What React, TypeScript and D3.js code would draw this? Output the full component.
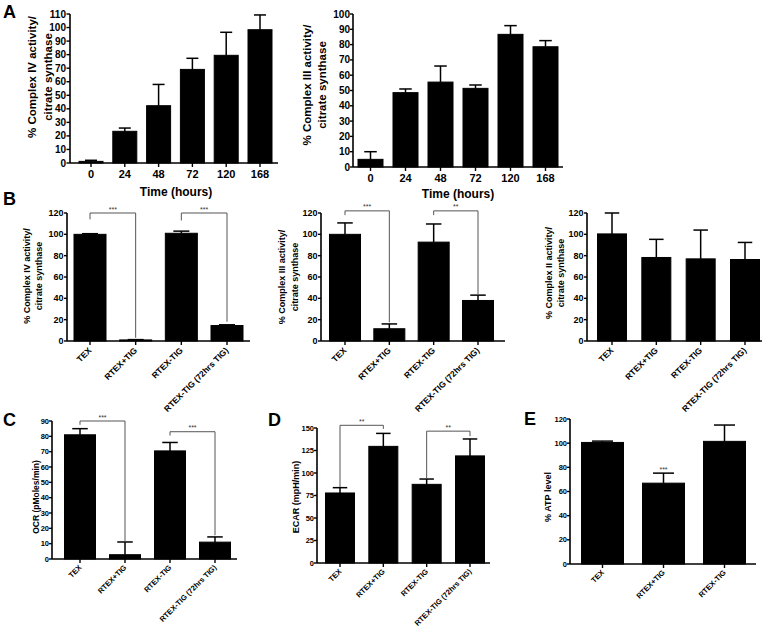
import React from 'react';
import * as d3 from 'd3';

// ---------- data ----------
const timeCats = ['0', '24', '48', '72', '120', '168'];
const a1Means = [1.2, 23.4, 42.3, 69.1, 79.5, 98.4];
const a1Errs = [0.8, 2.4, 15.7, 8.2, 17, 10.9];
const a1Ticks = [0, 10, 20, 30, 40, 50, 60, 70, 80, 90, 100, 110];

const a2Means = [5, 48.6, 55.5, 51.4, 86.7, 78.6];
const a2Errs = [5, 2.4, 10.5, 2.2, 5.7, 4];
const a2Ticks = [0, 10, 20, 30, 40, 50, 60, 70, 80, 90, 100];

const treatCats4 = ['TEX', 'RTEX+TIG', 'RTEX-TIG', 'RTEX-TIG (72hrs TIG)'];
const treatCats3 = ['TEX', 'RTEX+TIG', 'RTEX-TIG'];
const bTicks = [0, 20, 40, 60, 80, 100, 120];

const b1Means = [100, 1, 101, 14.5];
const b1Errs = [0.6, 0.3, 2, 0.7];
const b2Means = [100, 11.5, 92.7, 38];
const b2Errs = [10.7, 4.5, 17, 5];
const b3Means = [100.4, 78.3, 77, 76.4];
const b3Errs = [19.6, 17, 27, 16];

const cMeans = [81, 2.8, 70.5, 11];
const cErrs = [4, 8.3, 5.5, 3.4];
const cTicks = [0, 10, 20, 30, 40, 50, 60, 70, 80, 90];

const dMeans = [77.8, 129.6, 87.4, 119];
const dErrs = [5.9, 14.4, 5.9, 18.8];
const dTicks = [0, 25, 50, 75, 100, 125, 150];

const eMeans = [100.6, 66.9, 101.5];
const eErrs = [1.1, 8.3, 13.5];
const eTicks = [0, 20, 40, 60, 80, 100, 120];

type Bracket = { i: number; j: number; top: number; left: number; right: number; label: string };
const b1Brackets: Bracket[] = [
  { i: 0, j: 1, top: 120, left: 114, right: 3, label: '***' },
  { i: 2, j: 3, top: 120, left: 113, right: 18, label: '***' },
];
const b2Brackets: Bracket[] = [
  { i: 0, j: 1, top: 122, left: 118, right: 17.5, label: '***' },
  { i: 2, j: 3, top: 122, left: 118, right: 43.5, label: '**' },
];
const cBrackets: Bracket[] = [
  { i: 0, j: 1, top: 90, left: 87.5, right: 11, label: '***' },
  { i: 2, j: 3, top: 83, left: 80.5, right: 15.5, label: '***' },
];
const dBrackets: Bracket[] = [
  { i: 0, j: 1, top: 153, left: 84.5, right: 149, label: '**' },
  { i: 2, j: 3, top: 146.5, left: 93.5, right: 141, label: '**' },
];
const eStars = [{ i: 1, v: 76, label: '***' }];

const FONT = '"Liberation Sans", Arial, Helvetica, sans-serif';

type PanelProps = {
  cats: string[]; means: number[]; errs: number[]; ticks: number[];
  ax: number; axEnd: number; y0: number; yTop: number; yMax: number;
  c0: number; c1: number; bw: number;
  tickFont: number; xFont: number; rotate: boolean; xLabelY: number;
  tickLen?: number; labelGap?: number;
  yLabel: string[]; yLabelX: number[]; yLabelY: number; yLabelFont: number;
  xTitle?: string; xTitleX?: number; xTitleY?: number; xTitleFont?: number;
  brackets?: Bracket[]; stars?: { i: number; v: number; label: string }[];
  starFont?: number;
};

function Panel(p: PanelProps) {
  const n = p.cats.length;
  const step = (p.c1 - p.c0) / (n - 1);
  const pad = 1 - p.bw / step;
  const x = d3.scaleBand<string>().domain(p.cats)
    .range([p.c0 - step / 2, p.c1 + step / 2]).paddingInner(pad).paddingOuter(pad / 2);
  const y = d3.scaleLinear().domain([0, p.yMax]).range([p.y0, p.yTop]);
  const cx = (c: string) => (x(c) as number) + x.bandwidth() / 2;
  const sf = p.starFont ?? 7;
  const tl = p.tickLen ?? 3;
  const lg = p.labelGap ?? 3.5;
  return (
    <g fontFamily={FONT}>
      {p.cats.map((c, k) => (
        <rect key={'b' + k} x={x(c)} y={y(p.means[k])} width={x.bandwidth()}
          height={p.y0 - y(p.means[k])} fill="#000" stroke="#000" strokeWidth={1} />
      ))}
      {p.cats.map((c, k) => {
        const xc = cx(c);
        const yt = y(p.means[k] + p.errs[k]);
        const hw = x.bandwidth() / 4;
        return (
          <g key={'e' + k} stroke="#000" strokeWidth={1.5}>
            <line x1={xc} x2={xc} y1={y(p.means[k])} y2={yt} />
            <line x1={xc - hw} x2={xc + hw} y1={yt} y2={yt} />
          </g>
        );
      })}
      <line x1={p.ax} x2={p.ax} y1={p.y0} y2={p.yTop} stroke="#000" strokeWidth={1.6} />
      <line x1={p.ax} x2={p.axEnd} y1={p.y0} y2={p.y0} stroke="#000" strokeWidth={1.6} />
      {p.ticks.map((t) => (
        <g key={'yt' + t}>
          <line x1={p.ax - tl} x2={p.ax} y1={y(t)} y2={y(t)} stroke="#000" strokeWidth={1.4} />
          <text x={p.ax - lg} y={y(t)} dy="0.35em" textAnchor="end" fontSize={p.tickFont}
            fontWeight="bold">{t}</text>
        </g>
      ))}
      {p.cats.map((c) => (
        <line key={'xt' + c} x1={cx(c)} x2={cx(c)} y1={p.y0} y2={p.y0 + 4} stroke="#000" strokeWidth={1.4} />
      ))}
      {p.cats.map((c) =>
        p.rotate ? (
          <text key={'xl' + c} transform={`translate(${cx(c) + 2},${p.xLabelY}) rotate(-45)`}
            textAnchor="end" fontSize={p.xFont} fontWeight="bold">{c}</text>
        ) : (
          <text key={'xl' + c} x={cx(c)} y={p.xLabelY} textAnchor="middle" fontSize={p.xFont}
            fontWeight="bold">{c}</text>
        )
      )}
      {p.xTitle && (
        <text x={p.xTitleX} y={p.xTitleY} textAnchor="middle" fontSize={p.xTitleFont}
          fontWeight="bold">{p.xTitle}</text>
      )}
      {p.yLabel.map((l, k) => (
        <text key={'yl' + k} transform={`translate(${p.yLabelX[k]},${p.yLabelY}) rotate(-90)`}
          textAnchor="middle" dy="0.35em" fontSize={p.yLabelFont} fontWeight="bold">{l}</text>
      ))}
      {(p.brackets || []).map((b, k) => {
        const xa = cx(p.cats[b.i]);
        const xb = cx(p.cats[b.j]);
        const yt = y(b.top);
        return (
          <g key={'br' + k}>
            <path d={`M${xa},${y(b.left)}V${yt}H${xb}V${y(b.right)}`} fill="none"
              stroke="#555" strokeWidth={1} />
            <text x={(xa + xb) / 2} y={yt - 1.5} textAnchor="middle" fontSize={sf}
              fill="#333">{b.label}</text>
          </g>
        );
      })}
      {(p.stars || []).map((s, k) => (
        <text key={'st' + k} x={cx(p.cats[s.i])} y={y(s.v)} textAnchor="middle" fontSize={sf}
          fill="#333">{s.label}</text>
      ))}
    </g>
  );
}

export default function App() {
  const letter = (t: string, xx: number, yy: number) => (
    <text x={xx} y={yy} fontFamily={FONT} fontWeight="bold" fontSize={18}>{t}</text>
  );
  return (
    <svg width={764} height={632} style={{ position: 'absolute', left: 0, top: 0, background: '#fff' }}>
      <rect width={764} height={632} fill="#fff" />
      {letter('A', 3, 18)}
      {letter('B', 3, 205)}
      {letter('C', 3, 426)}
      {letter('D', 268, 426)}
      {letter('E', 524, 425)}

      <Panel cats={timeCats} means={a1Means} errs={a1Errs} ticks={a1Ticks}
        ax={70} axEnd={278} y0={163} yTop={14} yMax={110}
        c0={91} c1={260} bw={24} tickLen={3.5} labelGap={4}
        tickFont={10} xFont={11} rotate={false} xLabelY={178}
        yLabel={['% Complex IV activity/', 'citrate synthase']} yLabelX={[32, 47.5]} yLabelY={77}
        yLabelFont={11.5} xTitle="Time (hours)" xTitleX={176} xTitleY={195.5} xTitleFont={12} />

      <Panel cats={timeCats} means={a2Means} errs={a2Errs} ticks={a2Ticks}
        ax={353} axEnd={563} y0={167} yTop={14} yMax={100}
        c0={370.5} c1={545.5} bw={25} tickLen={3} labelGap={3}
        tickFont={10} xFont={11} rotate={false} xLabelY={182}
        yLabel={['% Complex III activity/', 'citrate synthase']} yLabelX={[307, 321.5]} yLabelY={85}
        yLabelFont={11.5} xTitle="Time (hours)" xTitleX={458} xTitleY={197.5} xTitleFont={12} />

      <Panel cats={treatCats4} means={b1Means} errs={b1Errs} ticks={bTicks}
        ax={67} axEnd={250} y0={341} yTop={213} yMax={120}
        c0={90} c1={227} bw={32}
        tickFont={9} xFont={8.5} rotate={true} xLabelY={351}
        yLabel={['% Complex IV activity/', 'citrate synthase']} yLabelX={[27, 39]} yLabelY={276}
        yLabelFont={9} brackets={b1Brackets} />

      <Panel cats={treatCats4} means={b2Means} errs={b2Errs} ticks={bTicks}
        ax={321} axEnd={505} y0={341} yTop={213} yMax={120}
        c0={345} c1={478} bw={31}
        tickFont={9} xFont={8.5} rotate={true} xLabelY={351}
        yLabel={['% Complex III activity/', 'citrate synthase']} yLabelX={[282, 295]} yLabelY={277}
        yLabelFont={9} brackets={b2Brackets} />

      <Panel cats={treatCats4} means={b3Means} errs={b3Errs} ticks={bTicks}
        ax={587} axEnd={762} y0={341} yTop={213} yMax={120}
        c0={612} c1={745} bw={29}
        tickFont={9} xFont={8.5} rotate={true} xLabelY={351}
        yLabel={['% Complex II activity/', 'citrate synthase']} yLabelX={[549, 561]} yLabelY={273}
        yLabelFont={9} />

      <Panel cats={treatCats4} means={cMeans} errs={cErrs} ticks={cTicks}
        ax={52} axEnd={237} y0={559} yTop={421} yMax={90} labelGap={3}
        c0={80} c1={215} bw={31}
        tickFont={7.5} xFont={7.5} rotate={true} xLabelY={568}
        yLabel={['OCR (pMoles/min)']} yLabelX={[36.5]} yLabelY={497}
        yLabelFont={8.5} brackets={cBrackets} />

      <Panel cats={treatCats4} means={dMeans} errs={dErrs} ticks={dTicks}
        ax={317} axEnd={490} y0={563} yTop={428} yMax={150} labelGap={3}
        c0={340} c1={470} bw={29}
        tickFont={7.5} xFont={7.5} rotate={true} xLabelY={572}
        yLabel={['ECAR (mpH/min)']} yLabelX={[295.5]} yLabelY={497}
        yLabelFont={9} brackets={dBrackets} />

      <Panel cats={treatCats3} means={eMeans} errs={eErrs} ticks={eTicks}
        ax={570} axEnd={756} y0={564} yTop={419} yMax={120} labelGap={3}
        c0={602.5} c1={724.5} bw={42}
        tickFont={7.5} xFont={7.5} rotate={true} xLabelY={573}
        yLabel={['% ATP level']} yLabelX={[548]} yLabelY={497}
        yLabelFont={9} stars={eStars} />
    </svg>
  );
}
